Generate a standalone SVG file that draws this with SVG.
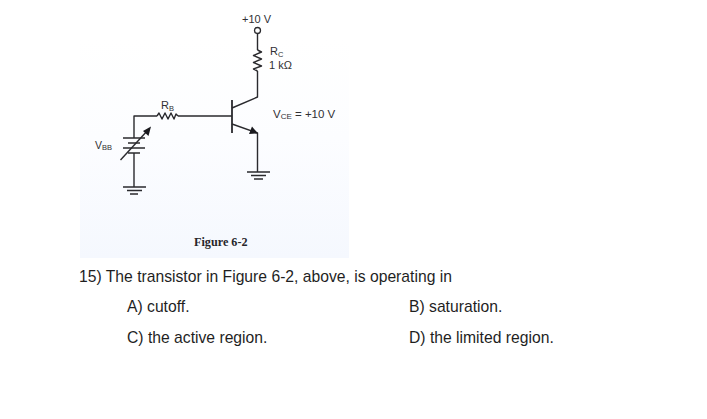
<svg xmlns="http://www.w3.org/2000/svg" width="707" height="419" viewBox="0 0 707 419">
<style>
.w{fill:none;stroke:#2a2a2e;stroke-width:1.400;stroke-linejoin:round}
.s{font-family:"Liberation Sans",Arial,sans-serif;fill:#303034}
.q{font-family:"Liberation Sans",Arial,sans-serif;font-size:15.700px;fill:#1f1f1f}
</style>
<defs>
<linearGradient id="bg" x1="0" y1="0" x2="0" y2="1">
<stop offset="0" stop-color="#ffffff"/>
<stop offset="0.45" stop-color="#fcfdff"/>
<stop offset="1" stop-color="#f5f8fe"/>
</linearGradient>
</defs>
<rect x="80" y="40" width="269" height="218" fill="url(#bg)"/>
<g id="connectors">
<path class="w" d="M257.500 33.500V50M257.500 71V97L232 108"/>
<path class="w" d="M232 116H178M157 116H134V138M134 153V187"/>
<path class="w" d="M232 124L257.500 133V172"/>
</g>
<g id="supply">
<circle cx="257.500" cy="30.500" r="3" fill="#fff" stroke="#2a2a2e" stroke-width="1.300"/>
<text class="s" x="242" y="23" font-size="11">+10 V</text>
</g>
<g id="rc">
<path class="w" d="M257.500 50L261.500 52L253.500 55.500L261.500 59L253.500 62.500L261.500 66L253.500 69L257.500 71" stroke-width="1.500"/>
<text class="s" x="270" y="55" font-size="11">R<tspan font-size="7.500" dy="1.500">C</tspan></text>
<text class="s" x="269" y="69" font-size="11">1 kΩ</text>
</g>
<g id="rb">
<path class="w" d="M157 116L159 113L162 119L165 113L168 119L171 113L174 119L176 114L178 116"/>
<text class="s" x="161" y="109" font-size="11">R<tspan font-size="7.500" dy="1.500">B</tspan></text>
</g>
<g id="transistor">
<path d="M232 100V133" fill="none" stroke="#2a2a2e" stroke-width="1.800"/>
<path d="M258 133.500L249 134L252 126.500Z" fill="#1a1a1e"/>
</g>
<g id="vbb">
<path class="w" d="M123 138H145M128 143H140M123 148H145M128 153H140"/>
<path class="w" d="M120.500 160L148 130"/>
<path d="M151 126.500L148.500 136L143 131Z" fill="#1a1a1e"/>
<text class="s" x="95" y="149" font-size="10.500">V<tspan font-size="7.500" dy="1">BB</tspan></text>
</g>
<g id="ground1"><path class="w" d="M123 187H146M127 190.500H142M130 194H138"/></g>
<g id="ground2"><path class="w" d="M247 172H270M251 175.500H266M254 179H263"/></g>
<g id="vce"><text class="s" x="273" y="118" font-size="11.500">V<tspan font-size="8" dy="1">CE</tspan><tspan dy="-1"> = +10 V</tspan></text></g>
<text x="194" y="245.500" font-family="Liberation Serif,serif" font-size="12.200" font-weight="bold" fill="#26262a">Figure 6-2</text>
<text class="q" x="79" y="282">15) The transistor in Figure 6-2, above, is operating in</text>
<text class="q" x="127" y="312">A) cutoff.</text>
<text class="q" x="409" y="312">B) saturation.</text>
<text class="q" x="127" y="343">C) the active region.</text>
<text class="q" x="409" y="343">D) the limited region.</text>
</svg>
